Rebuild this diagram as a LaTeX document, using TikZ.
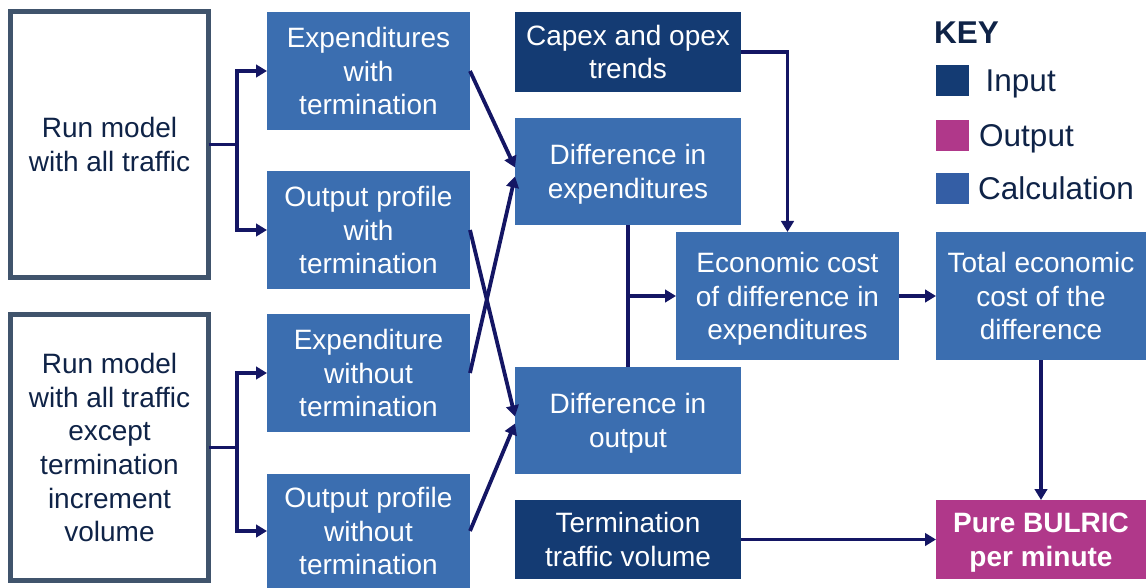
\documentclass[tikz,border=0pt]{standalone}
\usepackage{fontspec}
\setmainfont{Liberation Sans}
\usetikzlibrary{arrows.meta}
\definecolor{calcBg}{HTML}{3B6EB0}
\definecolor{inputBg}{HTML}{143B73}
\definecolor{outputBg}{HTML}{B0388A}
\definecolor{keyCalc}{HTML}{345EA5}
\definecolor{arrowCol}{HTML}{141664}
\definecolor{runBorder}{HTML}{40546C}
\definecolor{darkText}{HTML}{0F2347}
\tikzset{
boxstyle/.style={rectangle, inner sep=0pt, outer sep=0pt, align=center, text depth=0pt, font=\fontsize{28}{33.7}\selectfont},
calcbox/.style={boxstyle, fill=calcBg, text=white},
inputbox/.style={boxstyle, fill=inputBg, text=white},
outputbox/.style={boxstyle, fill=outputBg, text=white, font=\fontsize{28}{33.7}\selectfont\bfseries},
runbox/.style={boxstyle, draw=runBorder, line width=5pt, fill=white, text=darkText, minimum width=198pt, minimum height=266pt},
flow/.style={draw=arrowCol, line width=3.8pt, -{Triangle[length=11pt,width=12.5pt]}},
keysq/.style={rectangle, inner sep=0pt, minimum width=33pt, minimum height=31pt},
keytext/.style={anchor=base west, inner sep=0pt, text=darkText, font=\fontsize{31.5}{37}\selectfont}
}
\newcommand{\keyentry}[5]{
  \node [keysq, fill=#2] (key#1) at (952.5, #3) {};
  \node [keytext] (key#1txt) at (#4, #3 + 11.5) {#5};
}

\begin{document}
\begin{tikzpicture}[x=1pt, y=-1pt]
\useasboundingbox (0,0) rectangle (1146,588);

% model runs
\node [runbox] (run1) at (109.5, 144.5) {Run model\\with all traffic};
\node [runbox] (run2) at (109.5, 447.5) {Run model\\with all traffic\\except\\termination\\increment\\volume};

% results of the two runs
\node [calcbox, minimum width=203pt, minimum height=118pt] (ewt) at (368.5, 71) {Expenditures\\with\\termination};
\node [calcbox, minimum width=203pt, minimum height=118pt] (owt) at (368.5, 230) {Output profile\\with\\termination};
\node [calcbox, minimum width=203pt, minimum height=118pt] (ewo) at (368.5, 373) {Expenditure\\without\\termination};
\node [calcbox, minimum width=203pt, minimum height=114pt] (owo) at (368.5, 531) {Output profile\\without\\termination};

% middle column
\node [inputbox, minimum width=226pt, minimum height=80pt] (capex) at (628, 52) {Capex and opex\\trends};
\node [calcbox, minimum width=226pt, minimum height=107pt] (dexp) at (628, 171.5) {Difference in\\expenditures};
\node [calcbox, minimum width=226pt, minimum height=107pt] (dout) at (628, 420.5) {Difference in\\output};
\node [inputbox, minimum width=226pt, minimum height=79pt] (term) at (628, 539.5) {Termination\\traffic volume};

\node [calcbox, minimum width=223pt, minimum height=128pt] (econ) at (787.5, 296) {Economic cost\\of difference in\\expenditures};
\node [calcbox, minimum width=210pt, minimum height=128pt] (total) at (1041, 296) {Total economic\\cost of the\\difference};
\node [outputbox, minimum width=210pt, minimum height=79pt] (pure) at (1041, 539.5) {Pure BULRIC\\per minute};

% key
\node [keytext, font=\fontsize{31.5}{37}\selectfont\bfseries] (keytitle) at (934, 44) {KEY};
\keyentry{in}{inputBg}{80.5}{985.5}{Input}
\keyentry{out}{outputBg}{135.5}{979}{Output}
\keyentry{calc}{keyCalc}{188.5}{978}{Calculation}

% connectors
\coordinate (split1) at (237, 144.5);
\coordinate (split2) at (237, 447.5);
\draw [arrowCol, line width=3.8pt] (run1.east) -- (split1);
\draw [flow] (split1) |- (ewt.west);
\draw [flow] (split1) |- (owt.west);
\draw [arrowCol, line width=3.8pt] (run2.east) -- (split2);
\draw [flow] (split2) |- (ewo.west);
\draw [flow] (split2) |- (owo.west);

\draw [flow] (ewt.east) -- ([yshift=4pt]dexp.west);
\draw [flow] (ewo.east) -- ([yshift=-5pt]dexp.west);
\draw [flow] (owt.east) -- ([yshift=4pt]dout.west);
\draw [flow] (owo.east) -- ([yshift=-3pt]dout.west);

\draw [flow] (capex.east) -| (econ.north);
\draw [arrowCol, line width=3.8pt] (dexp.south) -- (dout.north);
\coordinate (join) at (dexp.south |- econ.west);
\draw [flow] (join) -- (econ.west);
\draw [flow] (econ.east) -- (total.west);
\draw [flow] (total.south) -- (pure.north);
\draw [flow, line width=3pt] (term.east) -- (pure.west);
\end{tikzpicture}
\end{document}
